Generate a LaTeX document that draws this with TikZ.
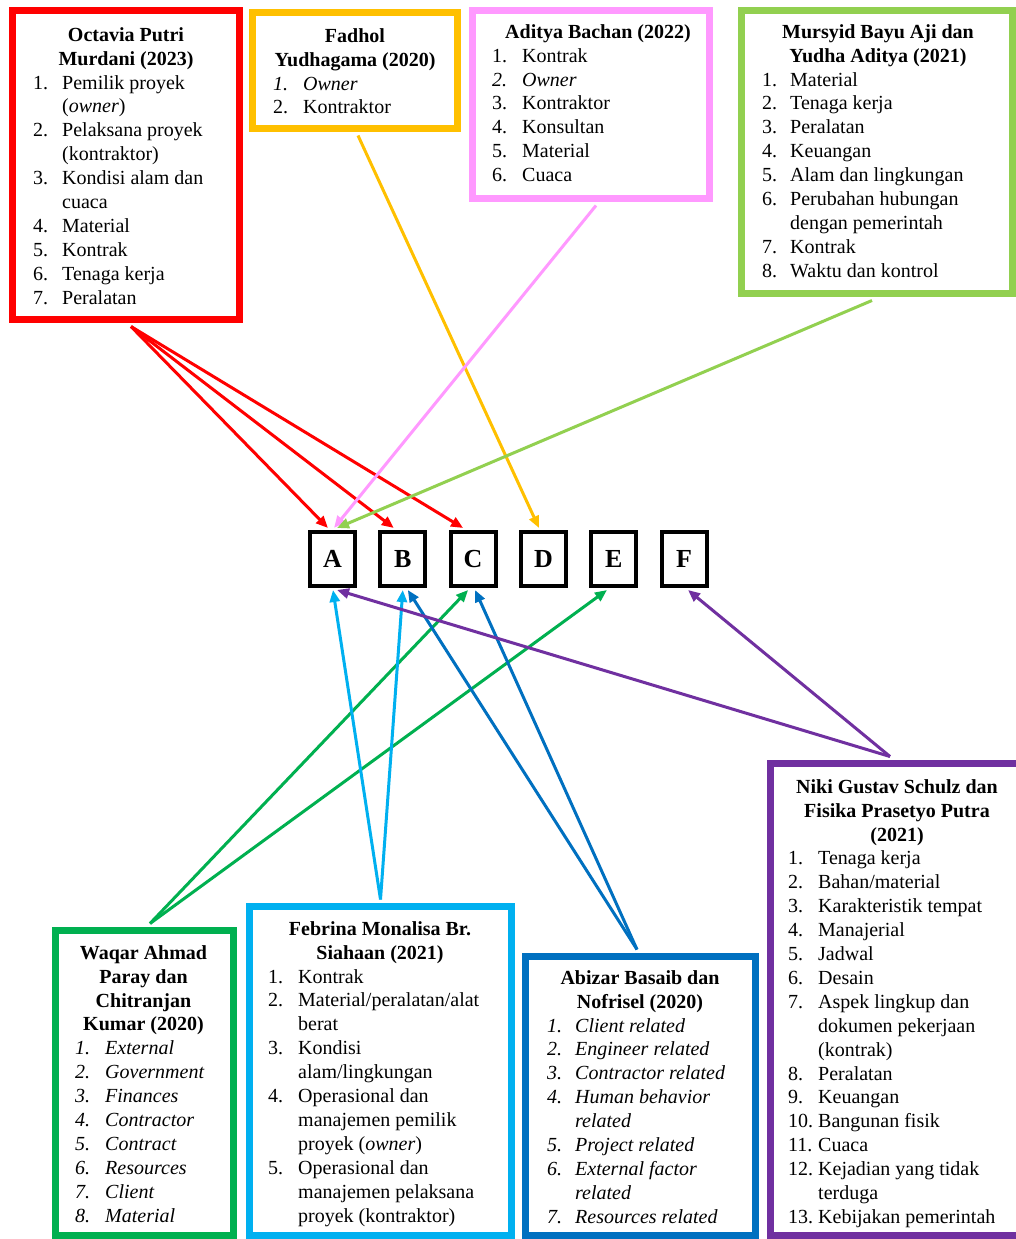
\documentclass[tikz,border=0pt]{standalone}
\usepackage{fontspec}
\setmainfont{Liberation Serif}
\usetikzlibrary{arrows.meta}
\definecolor{cRed}{HTML}{FF0000}
\definecolor{cOrange}{HTML}{FFC000}
\definecolor{cPink}{HTML}{FF99FF}
\definecolor{cLGreen}{HTML}{92D050}
\definecolor{cDGreen}{HTML}{00B050}
\definecolor{cCyan}{HTML}{00B0F0}
\definecolor{cBlue}{HTML}{0070C0}
\definecolor{cPurple}{HTML}{7030A0}
\newlength\nw
\newcommand\nm[1]{\makebox[\nw][l]{#1}}
\newcommand\ind{\hspace*{\nw}}
\begin{document}
\begin{tikzpicture}[x=1pt,y=-1pt,
  refbox/.style={draw=#1, line width=7pt, fill=white, rectangle, inner sep=0pt},
  ttl/.style={font=\fontsize{20}{23.9}\selectfont\bfseries, align=center, anchor=north, inner sep=0pt},
  lst/.style={font=\fontsize{20}{23.9}\selectfont, align=left, anchor=north west, inner sep=0pt,
    execute at begin node={\global\nw=#1pt\relax}},
  ilst/.style={lst=#1, font=\fontsize{20}{23.9}\selectfont\itshape},
  letter/.style={draw=black, line width=4pt, fill=white, minimum width=45pt, minimum height=54pt,
    inner sep=0pt, font=\fontsize{26}{30}\selectfont\bfseries},
  arr/.style={draw=#1, line width=3pt, -{Triangle[length=12pt,width=10pt]}},
]
\useasboundingbox (0,0) rectangle (1016,1239);
\fill[white] (0,0) rectangle (1016,1239);
\clip (0,0) rectangle (1016,1239);

% ---------- top boxes ----------
\node[refbox=cRed, minimum width=227pt, minimum height=309pt] (octavia) at (126,165) {};
\node[ttl] (octaviaT) at (126,24.3) {\strut Octavia Putri\\Murdani (2023)};
\node[lst=29] (octaviaL) at (33,72.1) {\strut\nm{1.}Pemilik proyek\\\ind(\textit{owner})\\\nm{2.}Pelaksana proyek\\\ind(kontraktor)\\\nm{3.}Kondisi alam dan\\\ind cuaca\\\nm{4.}Material\\\nm{5.}Kontrak\\\nm{6.}Tenaga kerja\\\nm{7.}Peralatan};

\node[refbox=cOrange, minimum width=205pt, minimum height=116pt] (fadhol) at (355,70.5) {};
\node[ttl] (fadholT) at (355,25.3) {\strut Fadhol\\Yudhagama (2020)};
\node[lst=30] (fadholL) at (273,73.1) {\strut\nm{\textit{1.}}\textit{Owner}\\\nm{2.}Kontraktor};

\node[refbox=cPink, minimum width=237pt, minimum height=188pt] (aditya) at (591,104.5) {};
\node[ttl] (adityaT) at (598,21.3) {\strut Aditya Bachan (2022)};
\node[lst=30] (adityaL) at (492,45.2) {\strut\nm{1.}Kontrak\\\nm{\textit{2.}}\textit{Owner}\\\nm{3.}Kontraktor\\\nm{4.}Konsultan\\\nm{5.}Material\\\nm{6.}Cuaca};

\node[refbox=cLGreen, minimum width=271pt, minimum height=283pt] (mursyid) at (877,152) {};
\node[ttl] (mursyidT) at (878,21.3) {\strut Mursyid Bayu Aji dan\\Yudha Aditya (2021)};
\node[lst=28] (mursyidL) at (762,69.1) {\strut\nm{1.}Material\\\nm{2.}Tenaga kerja\\\nm{3.}Peralatan\\\nm{4.}Keuangan\\\nm{5.}Alam dan lingkungan\\\nm{6.}Perubahan hubungan\\\ind dengan pemerintah\\\nm{7.}Kontrak\\\nm{8.}Waktu dan kontrol};

% ---------- bottom boxes ----------
\node[refbox=cDGreen, minimum width=178pt, minimum height=305pt] (waqar) at (144.5,1083) {};
\node[ttl] (waqarT) at (143.5,942.3) {\strut Waqar Ahmad\\Paray dan\\Chitranjan\\Kumar (2020)};
\node[ilst=30] (waqarL) at (75,1037.9) {\strut\nm{1.}External\\\nm{2.}Government\\\nm{3.}Finances\\\nm{4.}Contractor\\\nm{5.}Contract\\\nm{6.}Resources\\\nm{7.}Client\\\nm{8.}Material};

\node[refbox=cCyan, minimum width=262pt, minimum height=329pt] (febrina) at (380.5,1071) {};
\node[ttl] (febrinaT) at (380,918.3) {\strut Febrina Monalisa Br.\\Siahaan (2021)};
\node[lst=30] (febrinaL) at (268,966.1) {\strut\nm{1.}Kontrak\\\nm{2.}Material/peralatan/alat\\\ind berat\\\nm{3.}Kondisi\\\ind alam/lingkungan\\\nm{4.}Operasional dan\\\ind manajemen pemilik\\\ind proyek (\textit{owner})\\\nm{5.}Operasional dan\\\ind manajemen pelaksana\\\ind proyek (kontraktor)};

\node[refbox=cBlue, minimum width=230pt, minimum height=279pt] (abizar) at (640.5,1096) {};
\node[ttl] (abizarT) at (640,967.3) {\strut Abizar Basaib dan\\Nofrisel (2020)};
\node[ilst=28] (abizarL) at (547,1015.1) {\strut\nm{1.}Client related\\\nm{2.}Engineer related\\\nm{3.}Contractor related\\\nm{4.}Human behavior\\\ind related\\\nm{5.}Project related\\\nm{6.}External factor\\\ind related\\\nm{7.}Resources related};

\node[refbox=cPurple, minimum width=256pt, minimum height=472pt] (niki) at (898.5,999.5) {};
\node[ttl] (nikiT) at (897,776.3) {\strut Niki Gustav Schulz dan\\Fisika Prasetyo Putra\\(2021)};
\node[lst=30] (nikiL) at (788,848) {\strut\nm{1.}Tenaga kerja\\\nm{2.}Bahan/material\\\nm{3.}Karakteristik tempat\\\nm{4.}Manajerial\\\nm{5.}Jadwal\\\nm{6.}Desain\\\nm{7.}Aspek lingkup dan\\\ind dokumen pekerjaan\\\ind (kontrak)\\\nm{8.}Peralatan\\\nm{9.}Keuangan\\\nm{10.}Bangunan fisik\\\nm{11.}Cuaca\\\nm{12.}Kejadian yang tidak\\\ind terduga\\\nm{13.}Kebijakan pemerintah};

% ---------- letter boxes ----------
\node[letter] (A) at (332.5,559) {A};
\node[letter] (B) at (402.8,559) {B};
\node[letter] (C) at (473.1,559) {C};
\node[letter] (D) at (543.4,559) {D};
\node[letter] (E) at (613.7,559) {E};
\node[letter] (F) at (684,559) {F};

% ---------- connectors from top ----------
\draw[arr=cRed] ([xshift=5pt,yshift=-3.5pt]octavia.south) -- ([xshift=-4.5pt,yshift=2pt]A.north);
\draw[arr=cRed] ([xshift=5pt,yshift=-3.5pt]octavia.south) -- ([xshift=-9pt,yshift=2pt]B.north);
\draw[arr=cRed] ([xshift=5pt,yshift=-3.5pt]octavia.south) -- ([xshift=-10pt,yshift=2pt]C.north);
\draw[arr=cOrange] ([xshift=3pt,yshift=-3.5pt]fadhol.south) -- ([xshift=-4.4pt,yshift=2pt]D.north);
\draw[arr=cPink] ([xshift=5pt,yshift=-3.5pt]aditya.south) -- ([xshift=1.5pt,yshift=2pt]A.north);
\draw[arr=cLGreen] ([xshift=-5pt,yshift=-3.5pt]mursyid.south) -- ([xshift=4.5pt,yshift=2pt]A.north);

% ---------- connectors from bottom ----------
\draw[arr=cDGreen] ([xshift=5.5pt,yshift=3.5pt]waqar.north) -- ([xshift=-5pt,yshift=-2pt]C.south);
\draw[arr=cDGreen] ([xshift=5.5pt,yshift=3.5pt]waqar.north) -- ([xshift=-6.7pt,yshift=-2pt]E.south);
\draw[arr=cCyan] ([yshift=3.5pt]febrina.north) -- ([xshift=0.5pt,yshift=-2pt]A.south);
\draw[arr=cCyan] ([yshift=3.5pt]febrina.north) -- ([yshift=-2pt]B.south);
\draw[arr=cBlue] ([xshift=-3.5pt,yshift=3.5pt]abizar.north) -- ([xshift=5pt,yshift=-2pt]B.south);
\draw[arr=cBlue] ([xshift=-3.5pt,yshift=3.5pt]abizar.north) -- ([xshift=2pt,yshift=-2pt]C.south);
\draw[arr=cPurple] ([xshift=-8.5pt,yshift=3.5pt]niki.north) -- ([xshift=4.5pt,yshift=-2pt]A.south);
\draw[arr=cPurple] ([xshift=-8.5pt,yshift=3.5pt]niki.north) -- ([xshift=4pt,yshift=-2pt]F.south);
\end{tikzpicture}
\end{document}
